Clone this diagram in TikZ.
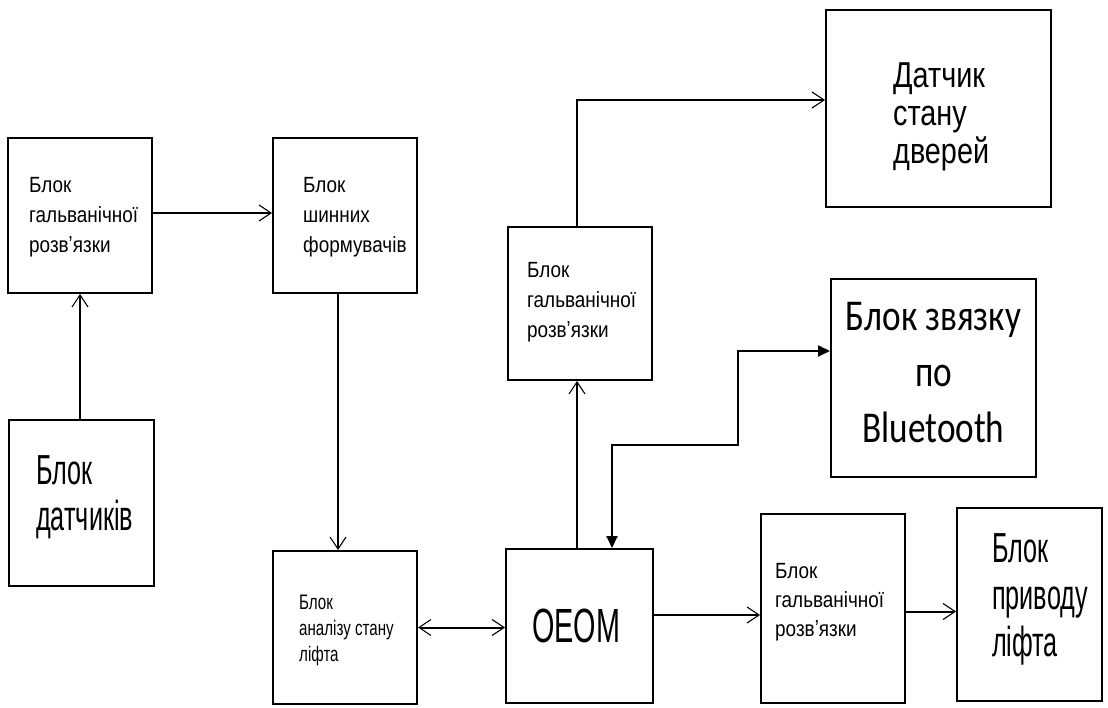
\documentclass[tikz,border=0pt]{standalone}
\usepackage{fontspec}
\setmainfont{Liberation Sans}
\newfontfamily\fsm[FakeStretch=0.86]{Liberation Sans}
\newfontfamily\fan[FakeStretch=0.72]{Liberation Sans}
\newfontfamily\fds[FakeStretch=0.8]{Liberation Sans}
\newfontfamily\fbig[FakeStretch=0.6]{Liberation Sans}
\newfontfamily\fbt[FakeStretch=0.8]{Carlito}
\usetikzlibrary{arrows.meta}
\tikzset{
  blk/.style={draw, line width=2pt, rectangle, inner sep=0pt},
  txt/.style={inner sep=0pt, anchor=north west, align=left},
  small/.style={txt, font=\fsm\fontsize{22}{30}\selectfont},
  big/.style={txt, font=\fbig\fontsize{42}{46}\selectfont},
  oarr/.style={line width=2pt, -{Straight Barb[length=12pt,width=16pt,line width=1.1pt]}},
  darr/.style={line width=2pt, {Straight Barb[length=12pt,width=16pt,line width=1.1pt]}-{Straight Barb[length=12pt,width=16pt,line width=1.1pt]}},
  farr/.style={line width=2pt, {Triangle[length=12pt,width=11pt]}-{Triangle[length=12pt,width=11pt]}}
}
\begin{document}
\begin{tikzpicture}[x=1pt,y=-1pt]
\useasboundingbox (0,0) rectangle (1108,708);
% boxes
\node[blk, minimum width=144pt, minimum height=155pt] (G1) at (80,215.5) {};
\node[blk, minimum width=144pt, minimum height=155pt] (SF) at (345,215.5) {};
\node[blk, minimum width=145pt, minimum height=166pt] (D) at (81.5,503) {};
\node[blk, minimum width=144pt, minimum height=153pt] (A) at (345,627.5) {};
\node[blk, minimum width=147pt, minimum height=154pt] (O) at (579.5,626) {};
\node[blk, minimum width=144pt, minimum height=153pt] (G2) at (580,303.5) {};
\node[blk, minimum width=225pt, minimum height=197pt] (DS) at (938.5,108.5) {};
\node[blk, minimum width=205pt, minimum height=198pt] (BT) at (933.5,378) {};
\node[blk, minimum width=144pt, minimum height=189pt] (G3) at (833,608.5) {};
\node[blk, minimum width=145pt, minimum height=193pt] (DR) at (1029.5,604) {};
% texts
\node[small] (G1t) at (29,177) {Блок\\гальванічної\\розвʼязки};
\node[small] (SFt) at (303,177) {Блок\\шинних\\формувачів};
\node[big] (Dt) at (36,455) {Блок\\датчиків};
\node[txt, font=\fan\fontsize{21}{26}\selectfont] (At) at (299,595) {Блок\\аналізу стану\\ліфта};
\node[inner sep=0pt, font=\fbig\fontsize{48}{50}\selectfont] (Ot) at (576,626) {OEOM};
\node[small] (G2t) at (527,262) {Блок\\гальванічної\\розвʼязки};
\node[txt, font=\fds\fontsize{36}{38}\selectfont] (DSt) at (893,63) {Датчик\\стану\\дверей};
\node[txt, anchor=north, align=center, font=\fbt\fontsize{44}{56}\selectfont] (BTt) at (933.5,302) {Блок звязку\\по\\Bluetooth};
\node[small, font=\fsm\fontsize{22}{29}\selectfont] (G3t) at (775,563) {Блок\\гальванічної\\розвʼязки};
\node[big, font=\fbig\fontsize{42}{47}\selectfont] (DRt) at (992,533) {Блок\\приводу\\ліфта};
% bend point
\coordinate (b1) at (738,445);
% connectors
\draw[oarr] ([xshift=-1.5pt]D.north) -- ([xshift=-1.5pt]D.north |- G1.south);
\draw[oarr] ([yshift=2.5pt]G1.east) -- ([yshift=2.5pt]G1.east -| SF.west);
\draw[oarr] ([xshift=-7pt]SF.south) -- ([xshift=-7pt]SF.south |- A.north);
\draw[darr] (A.east) -- (A.east -| O.west);
\draw[oarr] ([xshift=-2.5pt]O.north) -- ([xshift=-2.5pt]O.north |- G2.south);
\draw[oarr] ([xshift=-3pt]G2.north) |- ([yshift=8.5pt]DS.west);
\draw[farr] ([yshift=27pt]BT.west) -| (b1) -| ([xshift=32.5pt]O.north);
\draw[oarr] ([yshift=11pt]O.east) -- ([yshift=11pt]O.east -| G3.west);
\draw[oarr] ([yshift=-3pt]G3.east) -- ([yshift=-3pt]G3.east -| DR.west);
\end{tikzpicture}
\end{document}
